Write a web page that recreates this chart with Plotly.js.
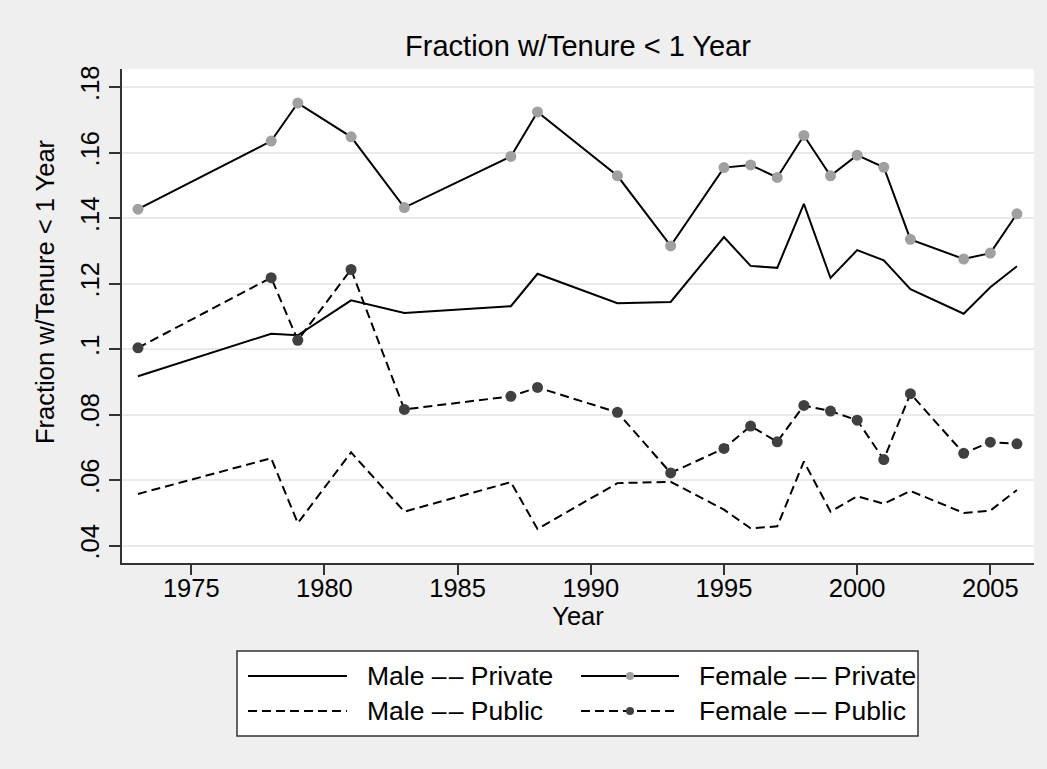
<!DOCTYPE html>
<html>
<head>
<meta charset="utf-8">
<script src="https://cdn.plot.ly/plotly-3.0.1.min.js"></script>
<style>
html,body{margin:0;padding:0;background:#efefef;}
#chart{width:1047px;height:769px;}
</style>
</head>
<body>
<div id="chart"></div>
<script>
// ---- data ----
const years = [1973,1978,1979,1981,1983,1987,1988,1991,1993,1995,1996,1997,1998,1999,2000,2001,2002,2004,2005,2006];
const malePrivate   = [0.0917,0.1047,0.1042,0.1149,0.1110,0.1131,0.1230,0.1140,0.1144,0.1342,0.1254,0.1248,0.1443,0.1217,0.1302,0.1271,0.1183,0.1108,0.1189,0.1253];
const femalePrivate = [0.1427,0.1635,0.1751,0.1648,0.1432,0.1588,0.1724,0.1529,0.1315,0.1554,0.1562,0.1524,0.1652,0.1529,0.1592,0.1555,0.1335,0.1275,0.1293,0.1413];
const malePublic    = [0.0558,0.0667,0.0469,0.0685,0.0504,0.0594,0.0451,0.0591,0.0595,0.0510,0.0453,0.0459,0.0657,0.0504,0.0551,0.0528,0.0567,0.0500,0.0507,0.0570];
const femalePublic  = [0.1004,0.1218,0.1027,0.1243,0.0816,0.0856,0.0883,0.0807,0.0622,0.0697,0.0765,0.0717,0.0828,0.0811,0.0783,0.0663,0.0864,0.0682,0.0716,0.0711];
const seriesNames   = ['Male –\u200a– Private','Female –\u200a– Private','Male –\u200a– Public','Female –\u200a– Public'];
const xTickVals = [1975,1980,1985,1990,1995,2000,2005];
const yTickVals = [0.04,0.06,0.08,0.10,0.12,0.14,0.16,0.18];
const yTickText = ['.04','.06','.08','.1','.12','.14','.16','.18'];
const chartTitle = 'Fraction w/Tenure < 1 Year';
const xTitle = 'Year';
const yTitle = 'Fraction w/Tenure < 1 Year';

// ---- styles ----
const FONT = 'Liberation Sans, Arial, Helvetica, sans-serif';
const DASH = '9px,5px';
const styles = [
  {dash:'solid', marker:null},
  {dash:'solid', marker:'#a0a0a0'},
  {dash:DASH,    marker:null},
  {dash:DASH,    marker:'#404040'}
];
const seriesData = [malePrivate, femalePrivate, malePublic, femalePublic];

const traces = seriesData.map((ys, i) => {
  const t = {
    x: years, y: ys, name: seriesNames[i], type: 'scatter',
    mode: styles[i].marker ? 'lines+markers' : 'lines',
    line: {color:'#000', width:2, dash: styles[i].dash}
  };
  if (styles[i].marker) t.marker = {color: styles[i].marker, size: 11, line:{width:0}};
  return t;
});

// ---- layout geometry ----
const W = 1047, H = 769;
const M = {l:122, r:13, t:69, b:206};
const pw = W - M.l - M.r, ph = H - M.t - M.b;
const fx = px => (px - M.l) / pw;
const fy = py => (H - M.b - py) / ph;

const shapes = [];
const annotations = [];

// y-axis title (Stata places it slightly above the plot centre)
annotations.push({xref:'paper', yref:'paper', x:fx(45), y:fy(292), xanchor:'center', yanchor:'middle',
  text: yTitle, textangle:-90, showarrow:false, font:{family:FONT, size:25.5, color:'#000'}});

// custom legend (Stata-like long samples)
shapes.push({type:'rect', xref:'paper', yref:'paper', x0:fx(237), x1:fx(918), y0:fy(651), y1:fy(736),
  fillcolor:'#ffffff', line:{color:'#333', width:1.5}, layer:'above'});
const cols = [{x0:248, x1:347, tx:365}, {x0:581, x1:679, tx:697}];
const rows = [676, 711];
seriesNames.forEach((nm, i) => {
  const c = cols[i % 2], r = rows[Math.floor(i / 2)];
  shapes.push({type:'line', xref:'paper', yref:'paper', x0:fx(c.x0), x1:fx(c.x1), y0:fy(r), y1:fy(r),
    line:{color:'#000', width:2, dash: styles[i].dash}, layer:'above'});
  if (styles[i].marker) {
    const cx = (c.x0 + c.x1) / 2, rad = 4;
    shapes.push({type:'circle', xref:'paper', yref:'paper', x0:fx(cx-rad), x1:fx(cx+rad), y0:fy(r+rad), y1:fy(r-rad),
      fillcolor: styles[i].marker, line:{width:0}, layer:'above'});
  }
  annotations.push({xref:'paper', yref:'paper', x:fx(c.tx), y:fy(r), xanchor:'left', yanchor:'middle',
    text: nm, showarrow:false, font:{family:FONT, size:26.5, color:'#000'}});
});

const layout = {
  width: W, height: H,
  margin: M,
  paper_bgcolor: '#efefef',
  plot_bgcolor: '#ffffff',
  showlegend: false,
  font: {family: FONT, color: '#000'},
  title: {text: chartTitle, font:{family:FONT, size:29, color:'#000'},
          x: 0.5, xref:'paper', xanchor:'center', y: 1 - 46/H, yref:'container', yanchor:'middle'},
  xaxis: {
    range: [1972.4, 2006.64], tickvals: xTickVals,
    ticks: 'outside', ticklen: 10, tickwidth: 1.5, tickcolor: '#333',
    ticklabelstandoff: -8,
    showline: true, linecolor: '#333', linewidth: 1.5,
    showgrid: false, zeroline: false,
    tickfont: {family:FONT, size:25.5, color:'#000'},
    title: {text: xTitle, font:{family:FONT, size:25.5, color:'#000'}, standoff: 2}
  },
  yaxis: {
    range: [0.03472, 0.18549], tickvals: yTickVals, ticktext: yTickText, tickangle: -90,
    ticks: 'outside', ticklen: 11, tickwidth: 1.5, tickcolor: '#333',
    showline: true, linecolor: '#333', linewidth: 1.5,
    showgrid: true, gridcolor: '#eaeaea', gridwidth: 2, zeroline: false,
    tickfont: {family:FONT, size:25.5, color:'#000'}
  },
  shapes: shapes,
  annotations: annotations
};

Plotly.newPlot('chart', traces, layout, {displayModeBar:false});
</script>
</body>
</html>
